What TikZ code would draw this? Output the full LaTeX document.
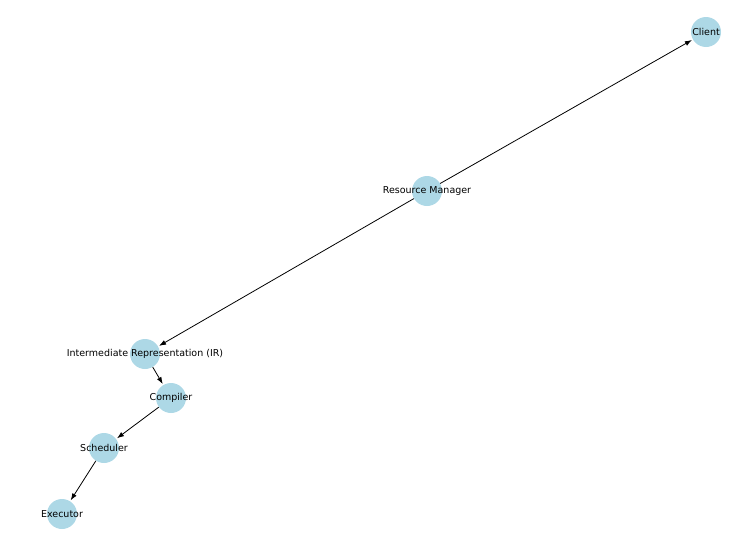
\documentclass[tikz,border=0pt]{standalone}
\usepackage{fontspec}
\setmainfont{DejaVu Sans}
\usetikzlibrary{arrows.meta}
\tikzset{
  comp/.style={circle,fill=cyan!30!blue!10!white,fill=lightblue,minimum size=30pt,inner sep=0pt},
  lbl/.style={font=\fontsize{9.5}{11}\selectfont},
  flow/.style={-{Latex[length=7pt,width=5pt]},thick,shorten >=1pt}
}
\definecolor{lightblue}{RGB}{173,216,230}
\begin{document}
\begin{tikzpicture}[x=1pt,y=-1pt]
\useasboundingbox (0,0) rectangle (740,544);
\node[comp] (client) at (706,32) {};
\node[comp] (rm) at (427,191) {};
\node[comp] (ir) at (145,354) {};
\node[comp] (comp) at (171,398) {};
\node[comp] (sched) at (104,448) {};
\node[comp] (exec) at (62,514) {};
\draw[flow] (rm) -- (client);
\draw[flow] (rm) -- (ir);
\draw[flow] (ir) -- (comp);
\draw[flow] (comp) -- (sched);
\draw[flow] (sched) -- (exec);
\node[lbl] at (client) {Client};
\node[lbl] at (rm) {Resource Manager};
\node[lbl] at (ir) {Intermediate Representation (IR)};
\node[lbl] at (comp) {Compiler};
\node[lbl] at (sched) {Scheduler};
\node[lbl] at (exec) {Executor};
\end{tikzpicture}
\end{document}
